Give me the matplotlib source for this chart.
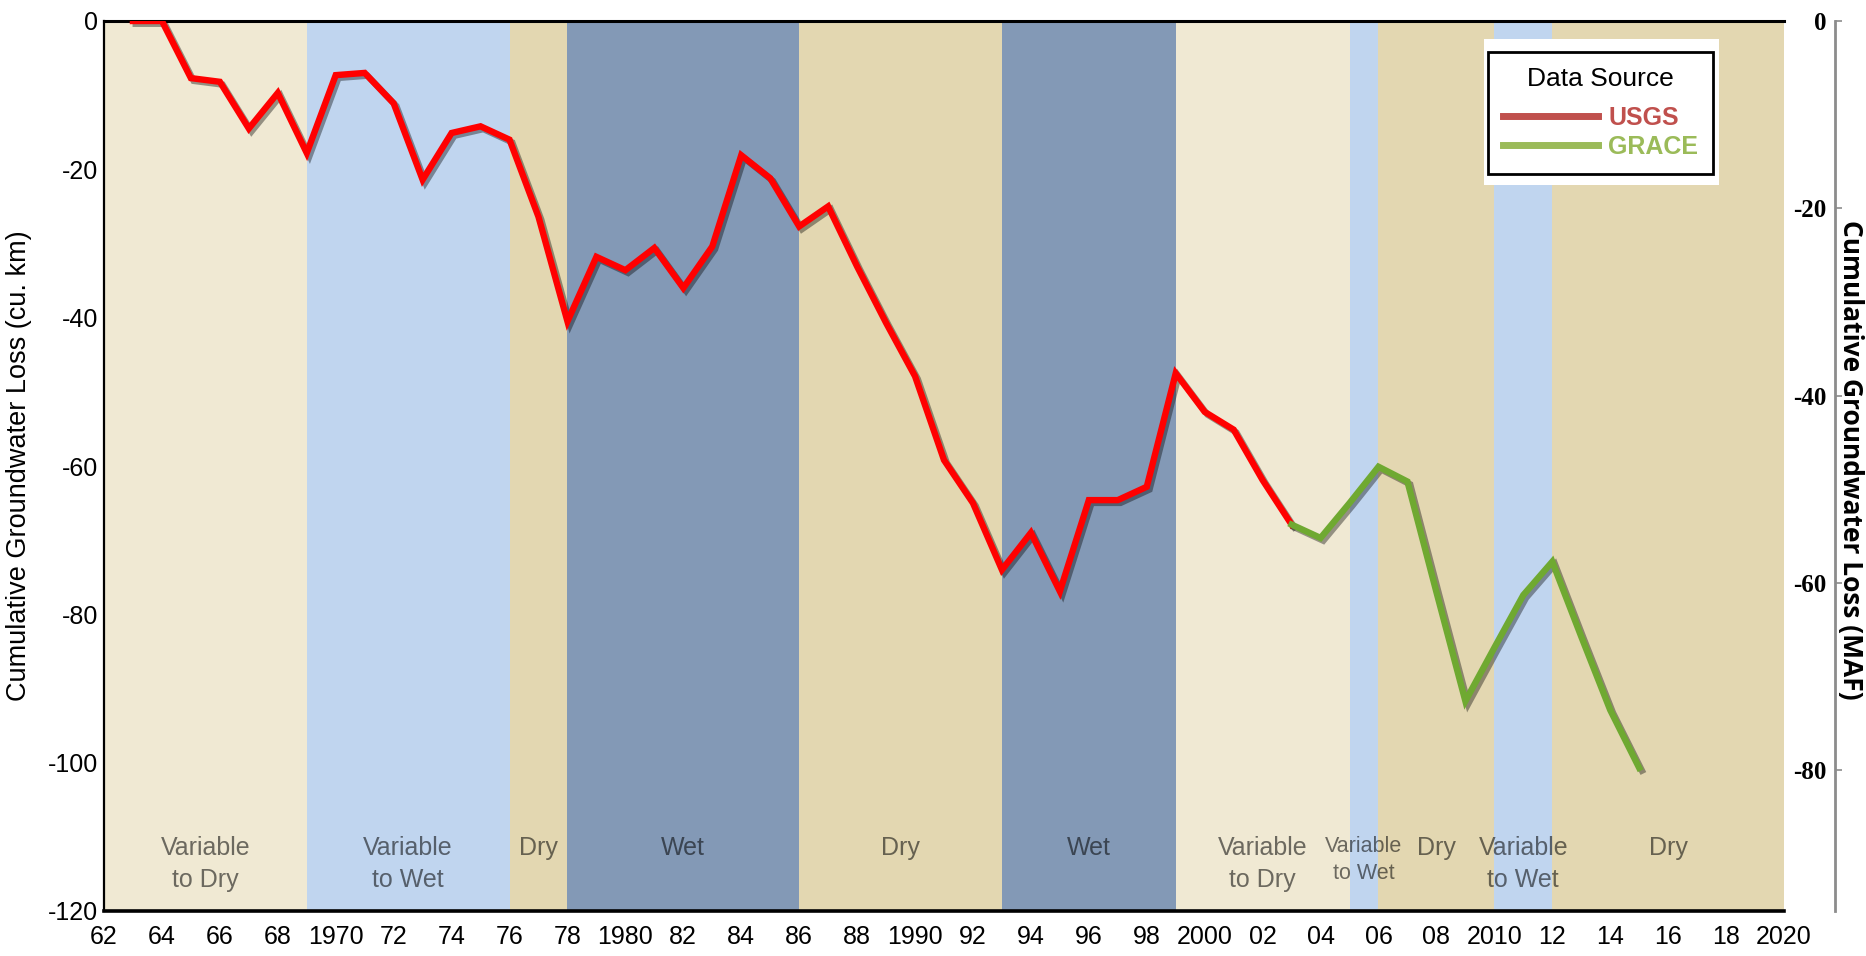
import matplotlib
matplotlib.use("Agg")
import matplotlib.pyplot as plt
from matplotlib import font_manager as fm
from matplotlib import patheffects as pe
from matplotlib.lines import Line2D
from matplotlib.patches import Rectangle

# ---------------------------------------------------------------- data
usgs_years = list(range(1963, 2004))
usgs_loss = [0.0, 0.0, -7.7, -8.2, -14.5, -9.7, -17.8, -7.3, -7.0, -11.1,
             -21.4, -15.1, -14.2, -16.0, -26.4, -40.5, -31.8, -33.6, -30.6, -36.0,
             -30.4, -18.1, -21.2, -27.7, -25.0, -33.1, -40.7, -47.9, -59.2, -65.0,
             -74.0, -69.0, -76.9, -64.6, -64.6, -62.8, -47.5, -52.7, -55.1, -61.9,
             -67.9]
grace_years = list(range(2003, 2016))
grace_loss = [-67.9, -69.7, -65.0, -60.1, -62.1, -77.0, -91.7, -84.5, -77.4, -72.9,
              -83.0, -92.9, -100.7]

# climate periods: start, end, kind, label
period_start = [1962, 1969, 1976, 1978, 1986, 1993, 1999, 2005, 2006, 2010, 2012]
period_end = [1969, 1976, 1978, 1986, 1993, 1999, 2005, 2006, 2010, 2012, 2020]
period_kind = ["vdry", "vwet", "dry", "wet", "dry", "wet", "vdry", "vwet", "dry", "vwet", "dry"]
period_label = ["Variable\nto Dry", "Variable\nto Wet", "Dry", "Wet", "Dry", "Wet",
                "Variable\nto Dry", "Variable\nto Wet", "Dry", "Variable\nto Wet", "Dry"]

x_ticks = list(range(1962, 2021, 2))
x_ticklabels = [str(y) if y % 10 == 0 else f"{y % 100:02d}" for y in x_ticks]
left_ticks = [0, -20, -40, -60, -80, -100, -120]
right_ticks = [0, -20, -40, -60, -80]

KIND_COLOR = {"vdry": "#F0E9D3", "vwet": "#C0D5EF", "dry": "#E3D7B1", "wet": "#8399B6"}
RED, GREEN = "#FF0000", "#6FA931"
LEG_RED, LEG_GREEN = "#C0504D", "#9BBB59"

names = {f.name for f in fm.fontManager.ttflist}
NARROW = "Liberation Sans Narrow" if "Liberation Sans Narrow" in names else "Liberation Sans"
SANS = "Liberation Sans"

W, H = 1866, 956
fig = plt.figure(figsize=(W / 100, H / 100), dpi=100)
ax = fig.add_axes([104 / W, 45 / H, 1680 / W, 890 / H])

for s, e, k in zip(period_start, period_end, period_kind):
    ax.axvspan(s, e, color=KIND_COLOR[k], lw=0, zorder=0)
for s, e, lab in zip(period_start, period_end, period_label):
    fs = 15.5 if e - s < 2 else 18
    ax.text((s + e) / 2, -109.9, lab, ha="center", va="top", fontsize=fs,
            family=NARROW, color="black", alpha=0.55, linespacing=1.4, zorder=1)

shadow = [pe.SimpleLineShadow(offset=(2, -2), shadow_color="black", alpha=0.38), pe.Normal()]
ax.plot(usgs_years, usgs_loss, color=RED, lw=4.6, solid_joinstyle="miter",
        path_effects=shadow, zorder=3)
ax.plot(grace_years, grace_loss, color=GREEN, lw=4.6, solid_joinstyle="miter",
        path_effects=shadow, zorder=3)

ax.set_xlim(1962, 2020)
ax.set_ylim(-120, 0)
ax.set_xticks(x_ticks)
ax.set_xticklabels(x_ticklabels, family=NARROW, fontsize=18)
ax.set_yticks(left_ticks)
ax.set_yticklabels([str(v) for v in left_ticks], family=NARROW, fontsize=18)
ax.tick_params(axis="both", length=0)
ax.tick_params(axis="x", pad=10)
ax.tick_params(axis="y", pad=4)
ax.spines["right"].set_visible(False)
ax.spines["left"].set_linewidth(1.6)
ax.spines["top"].set_linewidth(2.2)
ax.spines["bottom"].set_linewidth(2.6)
ax.set_ylabel("Cumulative Groundwater Loss (cu. km)", family=SANS, fontsize=19.5)
ax.yaxis.set_label_coords(-0.043, 0.5)

# right-hand axis in million acre-feet
ax2 = ax.twinx()
ax2.set_ylim(-95, 0)
for sp in ("top", "bottom", "right"):
    ax2.spines[sp].set_visible(False)
ax2.spines["left"].set_visible(True)
ax2.spines["left"].set_position(("axes", 1.0304))
ax2.spines["left"].set_color("#8C8C8C")
ax2.spines["left"].set_linewidth(2.0)
ax2.yaxis.set_ticks_position("left")
ax2.set_yticks(right_ticks)
ax2.set_yticklabels([str(v) for v in right_ticks], family="Liberation Serif",
                    fontweight="bold", fontsize=18)
ax2.tick_params(axis="y", direction="in", length=5, width=1.2, color="#8C8C8C", pad=6)
fig.text(1851 / W, 1 - 460 / H, "Cumulative Groundwater Loss (MAF)", rotation=270,
         ha="center", va="center", family="Open Sans", fontweight="bold", fontsize=19)

handles = [Line2D([], [], color=LEG_RED, lw=5), Line2D([], [], color=LEG_GREEN, lw=5)]
leg = ax.legend(handles, ["USGS", "GRACE"], title="Data Source\n", loc="upper left",
                bbox_to_anchor=(1488 / W, 1 - 52 / H), bbox_transform=fig.transFigure,
                borderaxespad=0, frameon=True, fancybox=False, framealpha=1,
                edgecolor="black", handlelength=3.8, handletextpad=0.4,
                borderpad=0.6, labelspacing=0.2,
                prop={"family": SANS, "weight": "bold", "size": 18},
                title_fontproperties={"family": SANS, "size": 19},
                labelcolor=[LEG_RED, LEG_GREEN])
leg.get_title().set_linespacing(0.25)
leg.get_frame().set_linewidth(2.0)
leg.set_zorder(6)

fig.canvas.draw()
bb = leg.get_window_extent()
ax.add_patch(Rectangle(((bb.x0 - 4) / W, (bb.y0 - 11) / H), (bb.width + 10) / W,
                       (bb.height + 24) / H, transform=fig.transFigure, facecolor="white",
                       edgecolor="none", zorder=5, clip_on=False))

fig.savefig("out.png", dpi=100)
